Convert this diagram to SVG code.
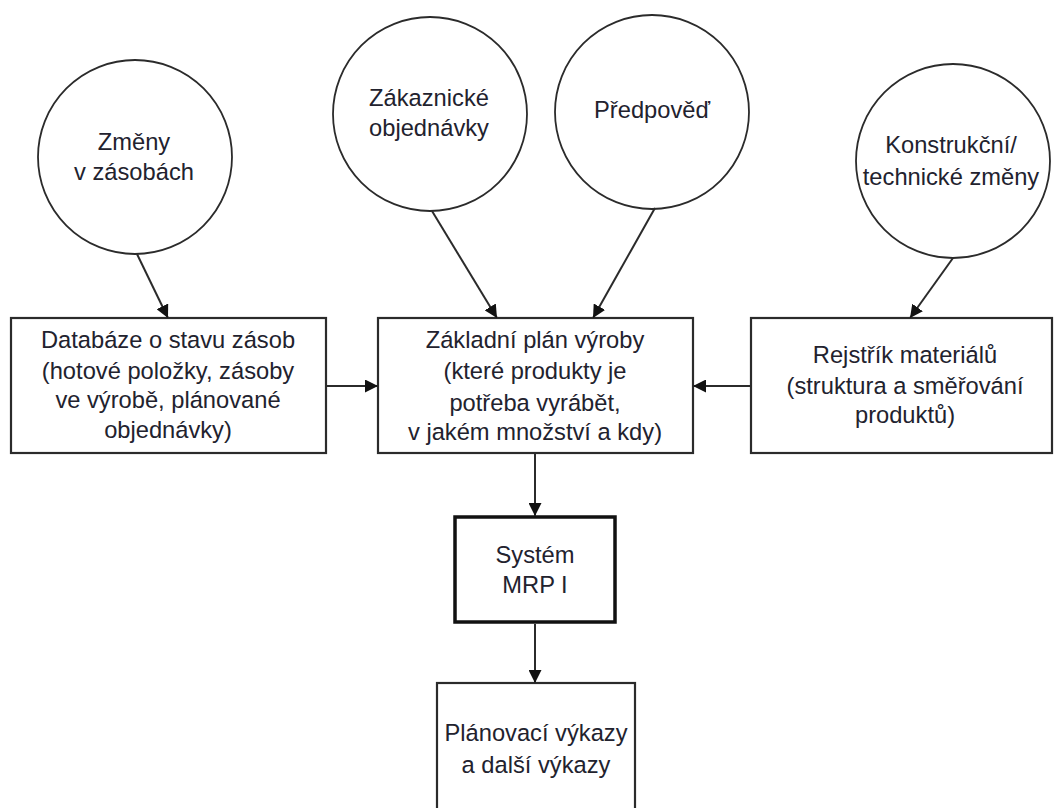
<svg xmlns="http://www.w3.org/2000/svg" width="1055" height="808" viewBox="0 0 1055 808">
  <style>
    .bg { fill: #ffffff; }
    .circle { fill: #ffffff; stroke: #2b2b2b; stroke-width: 1.8; }
    .box { fill: #ffffff; stroke: #2b2b2b; stroke-width: 2.2; }
    .box-bold { fill: #ffffff; stroke: #111111; stroke-width: 3.5; }
    .label { font-family: "Liberation Sans", Arial, sans-serif; font-size: 23.7px; fill: #22222e; text-anchor: middle; }
    .edge { fill: none; stroke: #2b2b2b; stroke-width: 2; marker-end: url(#arrow); }
  </style>
  <defs>
    <marker id="arrow" viewBox="0 0 13 13" refX="13" refY="6.5" markerWidth="13" markerHeight="13" markerUnits="userSpaceOnUse" orient="auto">
      <path d="M0,0 L13,6.5 L0,13 z" fill="#111111"/>
    </marker>
  </defs>
  <rect class="bg" x="0" y="0" width="1055" height="808"/>

  <!-- input sources -->
  <g id="zmeny-v-zasobach">
    <circle class="circle" cx="135" cy="157" r="97"/>
    <text class="label" x="134" y="150">Změny</text>
    <text class="label" x="134" y="180">v zásobách</text>
  </g>
  <g id="zakaznicke-objednavky">
    <circle class="circle" cx="430" cy="114" r="97"/>
    <text class="label" x="429" y="106">Zákaznické</text>
    <text class="label" x="429" y="136">objednávky</text>
  </g>
  <g id="predpoved">
    <circle class="circle" cx="652" cy="112" r="97"/>
    <text class="label" x="652" y="118">Předpověď</text>
  </g>
  <g id="konstrukcni-zmeny">
    <circle class="circle" cx="953" cy="161" r="97"/>
    <text class="label" x="951" y="153">Konstrukční/</text>
    <text class="label" x="951" y="185">technické změny</text>
  </g>

  <!-- data boxes -->
  <g id="databaze-zasob">
    <rect class="box" x="11" y="318" width="315" height="135"/>
    <text class="label" x="168" y="348">Databáze o stavu zásob</text>
    <text class="label" x="168" y="379">(hotové položky, zásoby</text>
    <text class="label" x="168" y="408">ve výrobě, plánované</text>
    <text class="label" x="168" y="438">objednávky)</text>
  </g>
  <g id="zakladni-plan">
    <rect class="box" x="378" y="318" width="315" height="135"/>
    <text class="label" x="535" y="348">Základní plán výroby</text>
    <text class="label" x="535" y="379">(které produkty je</text>
    <text class="label" x="535" y="411">potřeba vyrábět,</text>
    <text class="label" x="535" y="440">v jakém množství a kdy)</text>
  </g>
  <g id="rejstrik-materialu">
    <rect class="box" x="751" y="318" width="301" height="135"/>
    <text class="label" x="905" y="363">Rejstřík materiálů</text>
    <text class="label" x="905" y="394">(struktura a směřování</text>
    <text class="label" x="905" y="423">produktů)</text>
  </g>
  <g id="system-mrp">
    <rect class="box-bold" x="455" y="517" width="160" height="105"/>
    <text class="label" x="535" y="563">Systém</text>
    <text class="label" x="535" y="593">MRP I</text>
  </g>
  <g id="planovaci-vykazy">
    <rect class="box" x="437" y="683" width="198" height="140"/>
    <text class="label" x="536" y="741">Plánovací výkazy</text>
    <text class="label" x="536" y="773">a další výkazy</text>
  </g>

  <!-- connectors -->
  <g id="connectors">
    <line class="edge" x1="137" y1="254" x2="168" y2="318"/>
    <line class="edge" x1="432" y1="211" x2="497" y2="318"/>
    <line class="edge" x1="655" y1="208" x2="593" y2="318"/>
    <line class="edge" x1="953" y1="258" x2="910" y2="318"/>
    <line class="edge" x1="326" y1="386" x2="378" y2="386"/>
    <line class="edge" x1="751" y1="386" x2="693" y2="386"/>
    <line class="edge" x1="535" y1="453" x2="535" y2="516"/>
    <line class="edge" x1="535" y1="624" x2="535" y2="683"/>
  </g>
</svg>
